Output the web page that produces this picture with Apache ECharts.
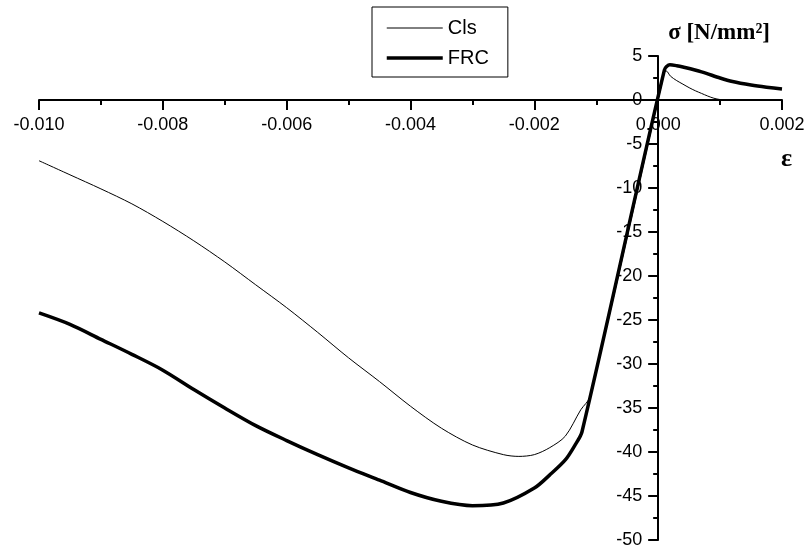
<!DOCTYPE html>
<html>
<head>
<meta charset="utf-8">
<script src="https://cdn.jsdelivr.net/npm/echarts@6/dist/echarts.min.js"></script>
<style>
    html, body { margin: 0; padding: 0; background: #fff; }
    #chart { width: 808px; height: 552px; }
</style>
</head>
<body>
<div id="chart"></div>
<script>
    // strain (-) and stress (N/mm2)
    var clsStrain = [-0.0100, -0.0095, -0.0090, -0.0085, -0.0080, -0.0075, -0.0070, -0.0065, -0.0060,
        -0.0055, -0.0050, -0.0045, -0.0040, -0.0035, -0.0030, -0.0025, -0.00225, -0.0020, -0.00175,
        -0.0015, -0.00125, -0.0011, 0.0001, 0.00013, 0.0002, 0.0003, 0.0004, 0.0005, 0.0006, 0.0007,
        0.0008, 0.0009, 0.0010, 0.0011, 0.0020];
    var clsStress = [-6.9, -8.5, -10.1, -11.8, -13.8, -16.0, -18.4, -21.0, -23.6,
        -26.4, -29.3, -32.0, -34.8, -37.3, -39.2, -40.3, -40.5, -40.3, -39.5,
        -38.2, -35.2, -33.7, 3.1, 3.3, 2.7, 2.2, 1.8, 1.4, 1.05, 0.75,
        0.45, 0.2, 0.05, 0, 0];

    var frcStrain = [-0.0100, -0.0095, -0.0090, -0.0085, -0.0080, -0.0075, -0.0070, -0.0065, -0.0060,
        -0.0055, -0.0050, -0.0045, -0.0040, -0.0035, -0.0030, -0.0025, -0.0020, -0.00175, -0.0015,
        -0.00135, -0.00123, 0.0001, 0.00019, 0.0003, 0.0004, 0.0007, 0.0010, 0.0012, 0.0015, 0.00175, 0.0020];
    var frcStress = [-24.2, -25.5, -27.2, -28.9, -30.7, -32.9, -35.0, -37.0, -38.7,
        -40.3, -41.8, -43.2, -44.6, -45.6, -46.1, -45.8, -44.1, -42.6, -40.9,
        -39.3, -37.7, 3.4, 4.0, 3.9, 3.75, 3.2, 2.5, 2.1, 1.7, 1.45, 1.25];

    var xTicks = { min: -0.010, max: 0.002, step: 0.002 };
    var yTicks = { min: -50, max: 5, step: 5 };

    var grid = { left: 39, right: 26, top: 56, bottom: 12 };
    var plotW = 808 - grid.left - grid.right;
    var plotH = 552 - grid.top - grid.bottom;
    // axes cross at (0, 0)
    var yAxisOffset = -plotW * (0 - xTicks.min) / (xTicks.max - xTicks.min);
    var xAxisOffset = -plotH * (yTicks.max - 0) / (yTicks.max - yTicks.min);

    function pairs(xs, ys) {
        return xs.map(function (x, i) { return [x, ys[i]]; });
    }

    var myChart = echarts.init(document.getElementById('chart'));
    myChart.setOption({
        animation: false,
        backgroundColor: '#fff',
        grid: {
            left: grid.left,
            right: grid.right,
            top: grid.top,
            bottom: grid.bottom,
            outerBoundsMode: 'none'
        },
        legend: {
            orient: 'vertical',
            left: 372,
            top: 7,
            padding: [11, 19, 9, 13],
            itemWidth: 56,
            itemHeight: 20,
            itemGap: 10,
            borderColor: '#000',
            borderWidth: 1,
            itemStyle: { opacity: 0 },
            textStyle: { fontFamily: 'Liberation Sans', fontSize: 20, color: '#000' },
            data: [
                { name: 'Cls', lineStyle: { width: 1, color: '#000' } },
                { name: 'FRC', lineStyle: { width: 3.5, color: '#000' } }
            ]
        },
        // strain symbol sits below the right end of the x axis
        graphic: [{
            type: 'text',
            right: 16,
            top: 146,
            style: {
                text: 'ε',
                fontFamily: 'Liberation Serif',
                fontWeight: 'bold',
                fontSize: 26,
                fill: '#000'
            }
        }],
        xAxis: {
            type: 'value',
            position: 'top',
            offset: xAxisOffset,
            min: xTicks.min,
            max: xTicks.max,
            interval: xTicks.step,
            axisLine: { onZero: false, lineStyle: { color: '#000', width: 2 } },
            axisTick: { inside: true, length: 10, lineStyle: { color: '#000', width: 2 } },
            minorTick: { show: true, splitNumber: 2, length: 5, lineStyle: { color: '#000', width: 2 } },
            splitLine: { show: false },
            axisLabel: {
                inside: true,
                margin: 16,
                fontFamily: 'Liberation Sans',
                fontSize: 18,
                color: '#000',
                formatter: function (v) { return (Math.abs(v) < 1e-9 ? 0 : v).toFixed(3); }
            }
        },
        yAxis: {
            type: 'value',
            position: 'left',
            offset: yAxisOffset,
            min: yTicks.min,
            max: yTicks.max,
            interval: yTicks.step,
            name: 'σ [N/mm²]',
            nameLocation: 'end',
            nameGap: 11,
            nameTextStyle: {
                fontFamily: 'Liberation Serif',
                fontWeight: 'bold',
                fontSize: 23,
                color: '#000',
                align: 'left',
                padding: [0, 0, 0, 10]
            },
            axisLine: { onZero: false, lineStyle: { color: '#000', width: 2 } },
            axisTick: { length: 10, lineStyle: { color: '#000', width: 2 } },
            minorTick: { show: true, splitNumber: 2, length: 5, lineStyle: { color: '#000', width: 2 } },
            splitLine: { show: false },
            axisLabel: {
                margin: 16,
                fontFamily: 'Liberation Sans',
                fontSize: 18,
                color: '#000'
            }
        },
        series: [
            {
                name: 'Cls',
                type: 'line',
                symbol: 'none',
                smooth: 0.3,
                lineStyle: { color: '#000', width: 1 },
                itemStyle: { color: '#000' },
                data: pairs(clsStrain, clsStress)
            },
            {
                name: 'FRC',
                type: 'line',
                symbol: 'none',
                smooth: 0.3,
                lineStyle: { color: '#000', width: 3.5 },
                itemStyle: { color: '#000' },
                data: pairs(frcStrain, frcStress)
            }
        ]
    });
</script>
</body>
</html>
